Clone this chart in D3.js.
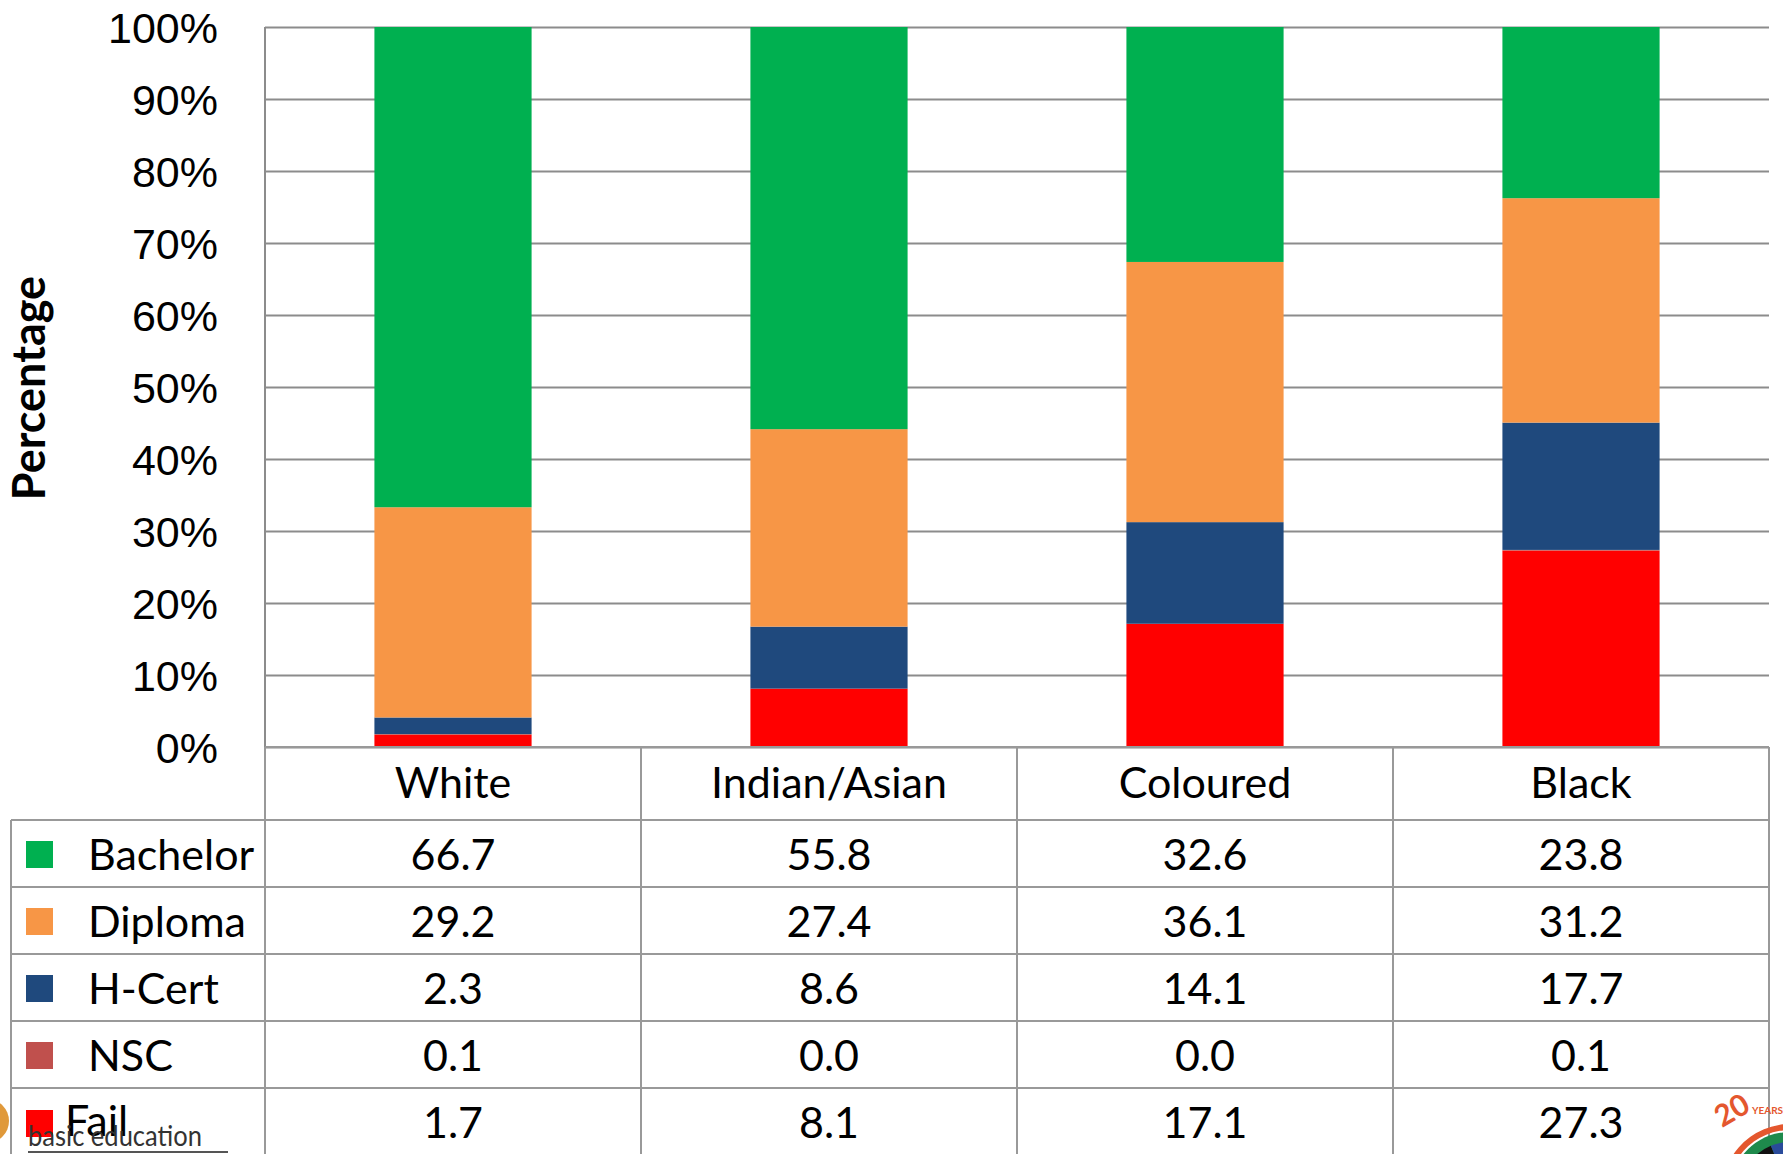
<!DOCTYPE html>
<html>
<head>
<meta charset="utf-8">
<script src="https://cdn.jsdelivr.net/npm/d3@7"></script>
<style>
  body { margin: 0; background: white; }
  svg { display: block; font-family: Lato, "Open Sans", sans-serif; }
</style>
</head>
<body>
<div id="chart"></div>
<script>
// chart data
const groups = ['White', 'Indian/Asian', 'Coloured', 'Black'];
const seriesNames = ['Bachelor', 'Diploma', 'H-Cert', 'NSC', 'Fail'];
const bachelor = [66.7, 55.8, 32.6, 23.8];
const diploma = [29.2, 27.4, 36.1, 31.2];
const hcert = [2.3, 8.6, 14.1, 17.7];
const nsc = [0.1, 0.0, 0.0, 0.1];
const fail = [1.7, 8.1, 17.1, 27.3];
const seriesColors = ['#00B050', '#F79646', '#1F497D', '#C0504D', '#FF0000'];
const yTicks = [0, 0.1, 0.2, 0.3, 0.4, 0.5, 0.6, 0.7, 0.8, 0.9, 1];

const seriesValues = [bachelor, diploma, hcert, nsc, fail];

let width = 1783,
	height = 1154,
	margin = { top: 27, left: 265, right: 14 },
	zeroY = 747,
	tableLeft = 11,
	headerBottom = 820,
	rowHeight = 67,
	fontSize = '43px';

let svg = d3.select('#chart')
	.append('svg')
	.attr('width', width)
	.attr('height', height)
	.style('background', 'white');

// rows of objects per group for stacking
let rows = groups.map(function (g, i) {
	let row = { group: g };
	let total = 0;
	seriesNames.forEach(function (s, j) { total += seriesValues[j][i]; });
	seriesNames.forEach(function (s, j) { row[s] = seriesValues[j][i] / total; });
	return row;
});

// stack from the bottom: Fail first, Bachelor last
let stackOrder = seriesNames.slice().reverse();
let stacked = d3.stack().keys(stackOrder)(rows);

let x = d3.scaleBand()
	.domain(groups)
	.range([margin.left, width - margin.right])
	.paddingInner(0.582)
	.paddingOuter(0.291);

let col = d3.scaleBand()
	.domain(groups)
	.range([margin.left, width - margin.right]);

let y = d3.scaleLinear()
	.domain([0, 1])
	.range([zeroY, margin.top]);

let color = d3.scaleOrdinal()
	.domain(seriesNames)
	.range(seriesColors);

// gridlines
let yAxis = d3.axisLeft(y)
	.tickValues(yTicks)
	.tickSize(-(width - margin.right - margin.left))
	.tickFormat(d3.format('.0%'))
	.tickPadding(47);

let gAxis = svg.append('g')
	.attr('transform', 'translate(' + margin.left + ',0)')
	.call(yAxis);

gAxis.select('.domain').remove();
gAxis.selectAll('.tick line')
	.attr('stroke', '#8c8c8c')
	.attr('stroke-width', 2);
gAxis.selectAll('.tick text')
	.style('font-size', fontSize)
	.attr('fill', 'black')
	.attr('dy', '0.36em');

// left axis line
svg.append('line')
	.attr('x1', margin.left).attr('x2', margin.left)
	.attr('y1', y(1)).attr('y2', y(0))
	.attr('stroke', '#8c8c8c')
	.attr('stroke-width', 2);

// bars
svg.append('g')
	.selectAll('g')
	.data(stacked)
	.join('g')
	.attr('fill', d => color(d.key))
	.selectAll('rect')
	.data(d => d)
	.join('rect')
	.attr('x', d => x(d.data.group))
	.attr('width', x.bandwidth())
	.attr('y', d => y(d[1]))
	.attr('height', d => y(d[0]) - y(d[1]));

// y axis title
svg.append('text')
	.attr('transform', 'translate(45,388) rotate(-90)')
	.attr('text-anchor', 'middle')
	.style('font-size', '45px')
	.style('font-weight', 'bold')
	.text('Percentage');

// data table
let rowY = d3.scaleBand()
	.domain(seriesNames)
	.range([headerBottom, headerBottom + rowHeight * seriesNames.length]);

let tableRight = width - margin.right;
let tableBottom = headerBottom + rowHeight * seriesNames.length;
let lineColor = '#999999';

let grid = svg.append('g')
	.attr('stroke', lineColor)
	.attr('stroke-width', 2);

// top line of header (x axis)
grid.append('line')
	.attr('x1', margin.left).attr('x2', tableRight)
	.attr('y1', zeroY).attr('y2', zeroY);

// row lines
grid.selectAll('.rowline')
	.data(seriesNames)
	.join('line')
	.attr('class', 'rowline')
	.attr('x1', tableLeft).attr('x2', tableRight)
	.attr('y1', d => rowY(d)).attr('y2', d => rowY(d));

// column lines
grid.selectAll('.colline')
	.data(groups.concat(['end']))
	.join('line')
	.attr('class', 'colline')
	.attr('x1', d => d == 'end' ? tableRight : col(d))
	.attr('x2', d => d == 'end' ? tableRight : col(d))
	.attr('y1', zeroY)
	.attr('y2', tableBottom);

grid.append('line')
	.attr('x1', tableLeft).attr('x2', tableLeft)
	.attr('y1', headerBottom).attr('y2', tableBottom);

// header labels
svg.append('g')
	.selectAll('text')
	.data(groups)
	.join('text')
	.attr('x', d => col(d) + col.bandwidth() / 2)
	.attr('y', 798)
	.attr('text-anchor', 'middle')
	.style('font-size', fontSize)
	.text(d => d);

// legend keys and names
let legendRows = svg.append('g')
	.selectAll('g')
	.data(seriesNames)
	.join('g')
	.attr('transform', d => 'translate(0,' + rowY(d) + ')');

legendRows.append('rect')
	.attr('x', 26)
	.attr('y', d => d == 'Fail' ? 22 : 21)
	.attr('width', 27)
	.attr('height', 27)
	.attr('fill', d => color(d));

legendRows.append('text')
	.attr('x', d => d == 'Fail' ? 65 : 88)
	.attr('y', d => d == 'Fail' ? 48 : 50)
	.style('font-size', fontSize)
	.text(d => d);

// values
legendRows.selectAll('.val')
	.data((d, i) => seriesValues[i].map((v, k) => ({ v: v, group: groups[k] })))
	.join('text')
	.attr('class', 'val')
	.attr('x', d => col(d.group) + col.bandwidth() / 2)
	.attr('y', 50)
	.attr('text-anchor', 'middle')
	.style('font-size', fontSize)
	.text(d => d3.format('.1f')(d.v));

// footer logo bits
let footer = svg.append('g');
footer.append('text')
	.attr('x', 28)
	.attr('y', 1146)
	.attr('textLength', 174)
	.attr('lengthAdjust', 'spacingAndGlyphs')
	.style('font-size', '28px')
	.attr('fill', '#333')
	.text('basic education');
footer.append('line')
	.attr('x1', 28).attr('x2', 228)
	.attr('y1', 1152).attr('y2', 1152)
	.attr('stroke', '#555').attr('stroke-width', 2);
footer.append('path')
	.attr('d', d3.arc()({ innerRadius: 0, outerRadius: 22, startAngle: 0, endAngle: Math.PI }))
	.attr('transform', 'translate(-13,1121)')
	.attr('fill', '#E0993A');

let badge = svg.append('g').attr('transform', 'translate(1790,1192)');
badge.append('path')
	.attr('d', d3.arc()({ innerRadius: 62, outerRadius: 68, startAngle: -Math.PI / 2.4, endAngle: Math.PI / 6 }))
	.attr('fill', '#E4572E');
badge.append('path')
	.attr('d', d3.arc()({ innerRadius: 0, outerRadius: 60, startAngle: -Math.PI / 2.6, endAngle: Math.PI / 2 }))
	.attr('fill', '#1E8A4C');
badge.append('path')
	.attr('d', d3.arc()({ innerRadius: 0, outerRadius: 50, startAngle: -Math.PI / 2.6, endAngle: -Math.PI / 8 }))
	.attr('fill', '#111');
badge.append('path')
	.attr('d', d3.arc()({ innerRadius: 0, outerRadius: 50, startAngle: -Math.PI / 8, endAngle: Math.PI / 2 }))
	.attr('fill', '#2A4B9B');
badge.append('text')
	.attr('x', -68).attr('y', -64)
	.attr('transform', 'rotate(-30,-68,-64)')
	.style('font-size', '30px')
	.style('font-weight', 'bold')
	.attr('fill', '#E4572E')
	.text('20');
badge.append('text')
	.attr('x', -38).attr('y', -78)
	.style('font-size', '10px')
	.style('font-weight', 'bold')
	.attr('fill', '#E4572E')
	.text('YEARS');
</script>
</body>
</html>
